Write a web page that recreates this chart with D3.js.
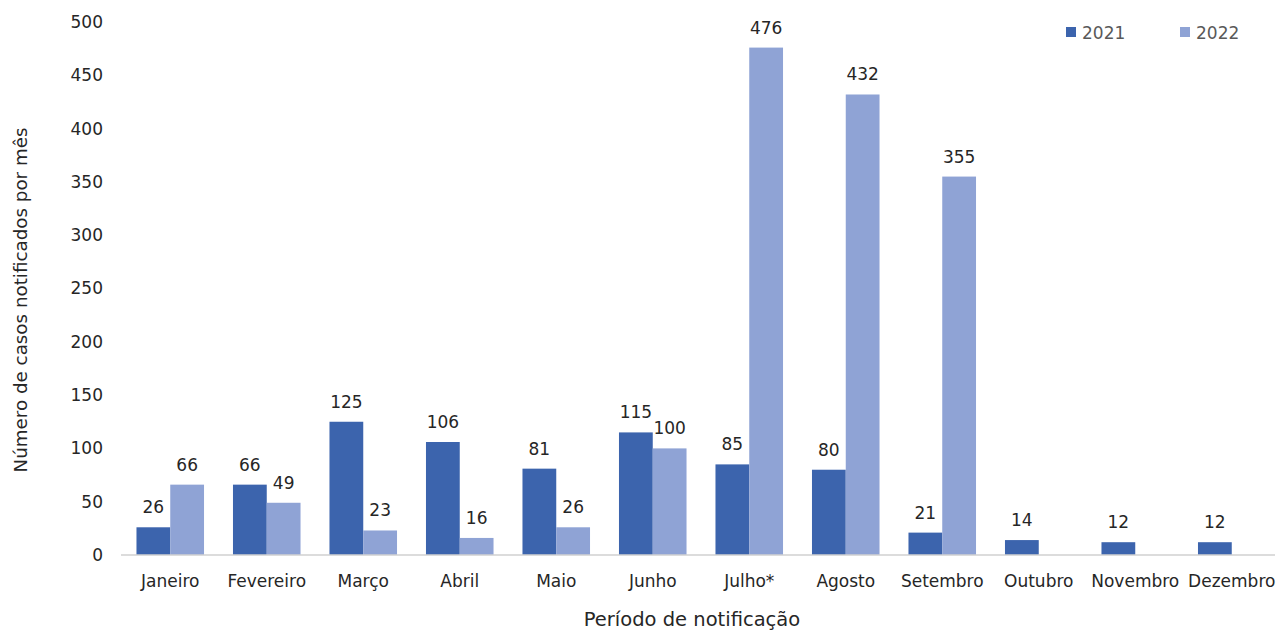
<!DOCTYPE html>
<html><head><meta charset="utf-8">
<script src="https://cdn.jsdelivr.net/npm/d3@7"></script>
<style>body{margin:0;background:#fff}svg{display:block}text{font-family:"DejaVu Sans",sans-serif;fill:#262626}</style>
</head><body><svg id="c" width="1279" height="631"></svg>
<script>
const categories = ["Janeiro","Fevereiro","Março","Abril","Maio","Junho","Julho*","Agosto","Setembro","Outubro","Novembro","Dezembro"];
const series = ["2021","2022"];
const values2021 = [26,66,125,106,81,115,85,80,21,14,12,12];
const values2022 = [66,49,23,16,26,100,476,432,355,null,null,null];
const yTicks = [0,50,100,150,200,250,300,350,400,450,500];
const colors = ["#3c64ad","#8fa3d5"];

const svg = d3.select("#c");
const m = {l:121, r:0, t:22, b:76};
const W = 1279, H = 631;
const FONT = "'DejaVu Sans',sans-serif";
const x = d3.scaleBand().domain(categories).range([m.l + 1, W - m.r + 1]).paddingInner(0.3).paddingOuter(0.15);
const xs = d3.scaleBand().domain(series).range([0, x.bandwidth()]);
const y = d3.scaleLinear().domain([0,500]).range([H - m.b, m.t]);

// y tick labels
const ya = svg.append("g").attr("transform",`translate(${m.l},0)`)
  .call(d3.axisLeft(y).tickValues(yTicks).tickSize(0).tickPadding(18));
ya.select(".domain").remove();
ya.selectAll("text").style("font-size","17px").style("fill","#262626").style("font-family",FONT);

const data = categories.map((c,i)=>({c, v:[values2021[i], values2022[i]]}));
const g = svg.append("g");
data.forEach(d=>{
  series.forEach((s,j)=>{
    const v = d.v[j];
    if (v==null) return;
    const bx = x(d.c)+xs(s);
    g.append("rect").attr("x",bx).attr("y",y(v)).attr("width",xs.bandwidth()).attr("height",y(0)-y(v)).attr("fill",colors[j]);
    g.append("text").attr("x",bx+xs.bandwidth()/2).attr("y",y(v)-14).attr("text-anchor","middle").style("font-size","17px").text(v);
  });
});

// baseline
svg.append("line").attr("x1",m.l).attr("x2",W-4).attr("y1",y(0)).attr("y2",y(0)).attr("stroke","#d0d0d0").attr("stroke-width",1.5);

// x axis labels
const xa = svg.append("g").attr("transform",`translate(0,${y(0)})`).call(d3.axisBottom(x).tickSize(0).tickPadding(20));
xa.select(".domain").remove();
xa.selectAll("text").style("font-size","17px").style("fill","#262626").style("font-family",FONT);

// titles
svg.append("text").attr("x",692).attr("y",626).attr("text-anchor","middle").style("font-size","19.5px").text("Período de notificação");
svg.append("text").attr("transform","translate(27,300) rotate(-90)").attr("text-anchor","middle").style("font-size","18.3px").text("Número de casos notificados por mês");

// legend
const lg = svg.append("g");
[[1066,"2021"],[1180,"2022"]].forEach(([lx,t],j)=>{
  lg.append("rect").attr("x",lx).attr("y",27).attr("width",10).attr("height",10).attr("fill",colors[j]);
  lg.append("text").attr("x",lx+16).attr("y",39).style("font-size","17px").style("fill","#595959").text(t);
});
</script></body></html>
